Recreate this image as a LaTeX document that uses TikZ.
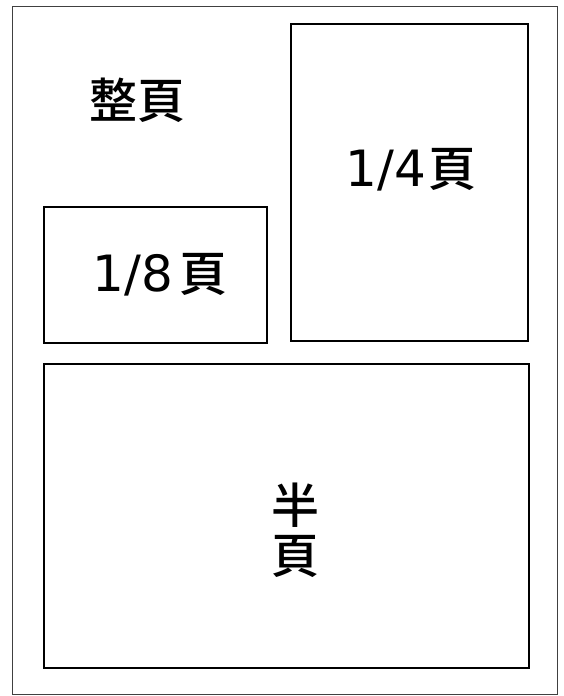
\documentclass[tikz,border=0pt]{standalone}
\usepackage{fontspec}
\newfontfamily\cjk{Noto Sans CJK TC Medium}
\newfontfamily\dig{DejaVu Sans}
\begin{document}
\begin{tikzpicture}[x=1pt,y=-1pt,
  pagebox/.style={draw=black,line width=1.4pt},
  frame/.style={draw=black!75,line width=0.9pt},
  lab/.style={inner sep=0pt,font=\fontsize{48}{56}\selectfont}]
\useasboundingbox (0,0) rectangle (564,696);
\draw[frame] (12,6) rectangle (557,694);
\node[pagebox,minimum width=237pt,minimum height=317pt,inner sep=0pt] (q) at (409.5,182.5) {};
\node[pagebox,minimum width=223pt,minimum height=136pt,inner sep=0pt] (e) at (155.5,275) {};
\node[pagebox,minimum width=485pt,minimum height=304pt,inner sep=0pt] (h) at (286.5,516) {};
\node[lab] (full) at (137,100) {\cjk 整頁};
\node[lab] (ql) at (411,170) {{\dig\fontsize{50}{60}\selectfont 1/4}\hspace{2pt}{\cjk 頁}};
\node[lab] (el) at (160,275) {{\dig\fontsize{50}{60}\selectfont 1/8}\hspace{6pt}{\cjk 頁}};
\node[lab,align=center] (hl) at (295,530) {\cjk 半\\[-6pt]\cjk 頁};
\end{tikzpicture}
\end{document}
